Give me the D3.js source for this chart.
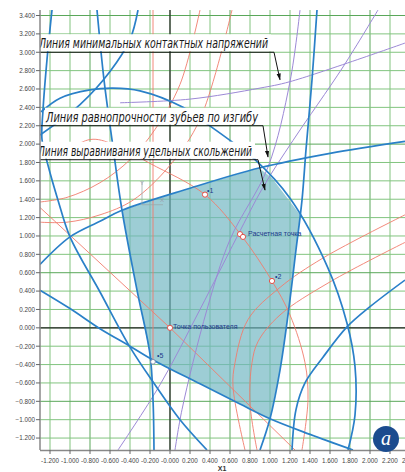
<!DOCTYPE html>
<html><head><meta charset="utf-8">
<script src="https://cdn.jsdelivr.net/npm/d3@7"></script>
<style>body{margin:0;background:#fff}svg{display:block}</style>
</head><body>
<svg id="chart" width="405" height="472"></svg>
<script>
// ---- axis ticks ----
const xTicks = [-1.2,-1.0,-0.8,-0.6,-0.4,-0.2,0,0.2,0.4,0.6,0.8,1.0,1.2,1.4,1.6,1.8,2.0,2.2,2.4];
const xTickLabels = ["-1.200","-1.000","-0.800","-0.600","-0.400","-0.200","-0.000","0.200","0.400","0.600","0.800","1.000","1.200","1.400","1.600","1.800","2.000","2.200","2.400"];
const yTicks = [-1.2,-1.0,-0.8,-0.6,-0.4,-0.2,0,0.2,0.4,0.6,0.8,1.0,1.2,1.4,1.6,1.8,2.0,2.2,2.4,2.6,2.8,3.0,3.2,3.4];

// ---- blocking contour (shaded region) ----
const contour = [[-0.48,1.28],[0.20,1.52],[0.89,1.74],[1.02,1.63],[1.30,1.23],[1.26,0.85],[1.18,0.14],[1.10,-0.46],[1.00,-0.99],[0.70,-0.83],[0.30,-0.61],[-0.19,-0.35],[-0.33,0.41]];

// ---- boundary curves (blue) ----
const blueTop = [[-1.30,0.69],[-1.00,0.99],[-0.70,1.16],[-0.48,1.28],[0.20,1.52],[0.89,1.74],[1.60,1.90],[2.35,2.03]];
const blueArc = [[-1.29,2.35],[-1.10,2.50],[-0.80,2.59],[-0.57,2.61],[-0.30,2.58],[0.13,2.40],[0.37,2.22],[0.60,2.04],[0.85,1.83],[1.20,1.41],[1.58,0.65],[1.77,0.05],[1.85,-0.42],[1.85,-0.95],[1.78,-1.33]];
const blueSteepRight = [[1.47,3.46],[1.42,2.70],[1.36,1.94],[1.32,1.39],[1.26,0.85],[1.18,0.14],[1.10,-0.46],[1.00,-0.99],[0.90,-1.33]];
const blueLowerRight = [[2.35,0.52],[2.00,0.23],[1.77,0.01],[1.53,-0.32],[1.35,-0.60],[1.26,-0.89],[1.22,-1.33]];
const blueBottom = [[-1.30,0.41],[-1.00,0.21],[-0.70,-0.01],[-0.40,-0.20],[-0.17,-0.35],[0.30,-0.61],[0.70,-0.83],[1.00,-0.99],[1.40,-1.16],[1.83,-1.33]];
const blueLeftArc = [[-1.18,3.46],[-1.23,2.92],[-1.27,2.37],[-1.28,2.05],[-1.22,1.77],[-1.12,1.39],[-1.00,0.99],[-0.70,0.39],[-0.40,-0.21],[-0.15,-0.62],[0.10,-1.00],[0.37,-1.33]];
const blueLeftEdge = [[-0.73,3.46],[-0.66,2.70],[-0.57,1.97],[-0.48,1.28],[-0.33,0.41],[-0.20,-0.29],[-0.17,-0.78],[-0.16,-1.33]];
const blueRising = [[-1.30,2.10],[-0.90,2.43],[-0.60,2.79],[-0.40,3.14],[-0.32,3.46]];

// ---- red curves ----
const redThroughOrigin = [[-1.30,1.31],[0,0],[1.25,-1.33]];
const redArcPoints = [[-1.15,1.85],[-0.80,2.05],[-0.57,2.00],[-0.20,1.79],[0.35,1.45],[0.71,1.01],[1.02,0.51],[1.20,0.14],[1.35,-0.38],[1.38,-0.78],[1.32,-1.33]];
const redCupUpper = [[-1.30,1.37],[-1.03,1.42],[-0.70,1.58],[-0.40,1.83],[-0.15,2.16],[0.10,2.65],[0.30,3.46]];
const redCupLower = [[-1.30,1.15],[-1.03,1.15],[-0.70,1.23],[-0.37,1.39],[0.00,1.77],[0.30,2.27],[0.62,3.46]];
const redRightUpper = [[2.35,1.23],[1.53,0.76],[1.10,0.44],[0.78,0.09],[0.65,-0.38],[0.63,-0.64],[0.75,-1.33]];
const redRightLower = [[2.35,0.93],[1.60,0.50],[1.10,0.14],[0.88,-0.15],[0.82,-0.38],[0.80,-0.82],[0.87,-1.33]];
const redVertical = [[-0.17,3.46],[-0.17,-0.35]];

// ---- purple curves ----
const purpleFlat = [[-0.50,2.45],[0.20,2.49],[0.90,2.61],[1.20,2.68],[2.35,3.10]];
const purpleSteepA = [[1.30,3.46],[1.20,2.68],[0.98,1.75],[0.60,0.96],[0.37,0.20],[0.12,-0.89],[0.05,-1.33]];
const purpleSteepB = [[2.08,3.46],[1.73,2.84],[1.23,2.04],[0.93,1.53],[0.67,0.99],[0.30,0.20],[-0.10,-0.62],[-0.52,-1.33]];

// ---- point markers ----
const markerPoints = [[0.35,1.45],[0.70,1.02],[0.73,0.99],[1.02,0.51],[0,0]];
const point5 = [-0.17,-0.37];
const pointLabels = [
  {t:"1", p:[0.37,1.47]},
  {t:"2", p:[1.05,0.53]},
  {t:"5", p:[-0.13,-0.33]}
];
const nameLabels = [
  {t:"Расчетная точка", p:[0.78,1.00]},
  {t:"Точка пользователя", p:[0.03,-0.01]}
];

// ---- annotation callouts ----
const notes = [
  {t:"Линия минимальных контактных напряжений", y:3.00, x0:-1.31, x1:-1.32, xEnd:1.04, tip:[1.10,2.70], len:229},
  {t:"Линия равнопрочности зубьев по изгибу", y:2.20, x0:-1.30, x1:-1.25, xEnd:0.93, tip:[0.98,1.86], len:212},
  {t:"Линия выравнивания удельных скольжений", y:1.83, x0:-1.30, x1:-1.33, xEnd:0.88, tip:[0.95,1.50], len:214}
];

const W = 405, H = 472;
const margin = {left:40, right:0, top:10, bottom:22};
const x = d3.scaleLinear().domain([-1.3, 2.35]).range([margin.left, W - margin.right]);
const y = d3.scaleLinear().domain([-1.33, 3.46]).range([H - margin.bottom, margin.top]);

const svg = d3.select("#chart");
const defs = svg.append("defs");
defs.append("clipPath").attr("id","plot").append("rect")
  .attr("x", x(-1.3)).attr("y", y(3.46)).attr("width", x(2.35)-x(-1.3)).attr("height", y(-1.33)-y(3.46));
defs.append("marker").attr("id","arrow").attr("viewBox","0 0 10 10").attr("refX",9).attr("refY",5)
  .attr("markerWidth",7).attr("markerHeight",7).attr("orient","auto-start-reverse")
  .append("path").attr("d","M0,2 L10,5 L0,8 Z").attr("fill","#111");

const plot = svg.append("g").attr("clip-path","url(#plot)");

// grid
plot.append("g").selectAll("line").data(xTicks).join("line")
  .attr("x1", d => x(d)).attr("x2", d => x(d)).attr("y1", y(3.46)).attr("y2", y(-1.33))
  .attr("stroke", (d,i) => (i % 7 === 2) ? "#5aa75a" : "#82c47f").attr("stroke-width", 1);
plot.append("g").selectAll("line").data(yTicks).join("line")
  .attr("y1", d => y(d)).attr("y2", d => y(d)).attr("x1", x(-1.3)).attr("x2", x(2.35))
  .attr("stroke", (d,i) => (i % 7 === 2) ? "#5aa75a" : "#82c47f").attr("stroke-width", 1);

// zero axes
plot.append("line").attr("x1", x(0)).attr("x2", x(0)).attr("y1", y(3.46)).attr("y2", y(-1.33)).attr("stroke","#222").attr("stroke-width",1.2);
plot.append("line").attr("y1", y(0)).attr("y2", y(0)).attr("x1", x(-1.3)).attr("x2", x(2.35)).attr("stroke","#222").attr("stroke-width",1.2);

// shaded region
plot.append("path").datum(contour)
  .attr("d", d3.line().x(d => x(d[0])).y(d => y(d[1])).curve(d3.curveLinearClosed))
  .attr("fill", "#6fb6c1").attr("fill-opacity", 0.68).attr("stroke","none");

const smooth = d3.line().x(d => x(d[0])).y(d => y(d[1])).curve(d3.curveCatmullRom.alpha(0.5));
const straight = d3.line().x(d => x(d[0])).y(d => y(d[1]));

function draw(data, color, width, gen) {
  plot.append("path").datum(data).attr("d", (gen || smooth)(data))
    .attr("fill","none").attr("stroke", color).attr("stroke-width", width).attr("stroke-linejoin","round");
}

const RED = "#f07c6c", PURPLE = "#9c89d6", BLUE = "#2a80c8";
draw(redThroughOrigin, RED, 0.9, straight);
draw(redArcPoints, RED, 0.9);
draw(redCupUpper, RED, 0.9);
draw(redCupLower, RED, 0.9);
draw(redRightUpper, RED, 0.9);
draw(redRightLower, RED, 0.9);
draw(redVertical, RED, 0.9, straight);
draw(purpleFlat, PURPLE, 1);
draw(purpleSteepA, PURPLE, 1);
draw(purpleSteepB, PURPLE, 1);
[blueTop, blueArc, blueSteepRight, blueLowerRight, blueBottom, blueLeftArc, blueLeftEdge, blueRising]
  .forEach(c => draw(c, BLUE, 1.7));

// small coordinate icon
const icon = plot.append("g").attr("stroke","#9aa").attr("fill","none").attr("stroke-width",0.8);
icon.append("path").attr("d", `M${x(-0.28)},${y(1.60)} L${x(-0.28)},${y(1.34)} L${x(-0.07)},${y(1.34)}`);
plot.append("text").attr("x", x(-0.30)).attr("y", y(1.55)).text("Y").attr("font-size",6).attr("fill","#99a").attr("font-family","Liberation Sans");
plot.append("text").attr("x", x(-0.10)).attr("y", y(1.37)).text("X").attr("font-size",6).attr("fill","#99a").attr("font-family","Liberation Sans");

// markers
plot.append("g").selectAll("circle").data(markerPoints).join("circle")
  .attr("cx", d => x(d[0])).attr("cy", d => y(d[1])).attr("r", 2.6)
  .attr("fill","#fff").attr("stroke","#e0504a").attr("stroke-width",1);
plot.append("circle").attr("cx", x(point5[0])).attr("cy", y(point5[1])).attr("r",2.4)
  .attr("fill","#fff").attr("stroke","#8090b0").attr("stroke-width",1);
plot.append("g").selectAll("text").data(pointLabels).join("text")
  .attr("x", d => x(d.p[0])).attr("y", d => y(d.p[1]))
  .attr("font-family","Liberation Sans").attr("font-size",7).attr("fill","#1c3a8a")
  .text(d => "•" + d.t);
plot.append("g").selectAll("text").data(nameLabels).join("text")
  .attr("x", d => x(d.p[0])).attr("y", d => y(d.p[1]))
  .attr("font-family","Liberation Sans").attr("font-size",7).attr("fill","#1c3a8a")
  .text(d => d.t);

// annotation callouts
notes.forEach(n => {
  const g = plot.append("g");
  g.append("rect").attr("x", x(n.x1)).attr("y", y(n.y) - 18).attr("width", n.len + 4).attr("height", 17).attr("fill","#fff");
  g.append("text").attr("x", x(n.x1) + 1).attr("y", y(n.y) - 4)
    .attr("font-family","Liberation Sans Narrow, DejaVu Sans Condensed, DejaVu Sans").attr("font-style","italic")
    .attr("font-size",13.5).attr("fill","#1a1a1a")
    .attr("textLength", n.len).attr("lengthAdjust","spacingAndGlyphs").text(n.t);
  g.append("line").attr("x1", x(n.x0)).attr("x2", x(n.xEnd)).attr("y1", y(n.y)).attr("y2", y(n.y))
    .attr("stroke","#111").attr("stroke-width",1);
  g.append("line").attr("x1", x(n.xEnd)).attr("y1", y(n.y)).attr("x2", x(n.tip[0])).attr("y2", y(n.tip[1]))
    .attr("stroke","#111").attr("stroke-width",1).attr("marker-end","url(#arrow)");
});

// axes
const axisG = svg.append("g");
axisG.append("line").attr("x1", x(-1.3)).attr("x2", x(-1.3)).attr("y1", y(3.46)).attr("y2", y(-1.33)).attr("stroke","#888").attr("stroke-width",1.5);
axisG.append("line").attr("x1", x(-1.3)).attr("x2", W).attr("y1", y(-1.33)+0.5).attr("y2", y(-1.33)+0.5).attr("stroke","#888").attr("stroke-width",1.5);
axisG.append("g").selectAll("line").data(yTicks).join("line")
  .attr("x1", x(-1.3)-4).attr("x2", x(-1.3)).attr("y1", d => y(d)).attr("y2", d => y(d)).attr("stroke","#666");
axisG.append("g").selectAll("text").data(yTicks).join("text")
  .attr("x", x(-1.3)-5).attr("y", d => y(d)+2.3).attr("text-anchor","end")
  .attr("font-family","Liberation Sans").attr("font-size",6.3).attr("fill","#444")
  .text(d => d3.format(".3f")(d));
axisG.append("g").selectAll("line").data(xTicks).join("line")
  .attr("x1", d => x(d)).attr("x2", d => x(d)).attr("y1", y(-1.33)).attr("y2", y(-1.33)+4).attr("stroke","#666");
axisG.append("g").selectAll("text").data(xTicks).join("text")
  .attr("x", (d) => x(d)).attr("y", y(-1.33)+13).attr("text-anchor","middle")
  .attr("font-family","Liberation Sans").attr("font-size",6.3).attr("fill","#444")
  .text((d,i) => xTickLabels[i]);
axisG.append("text").attr("x", 222).attr("y", 471).attr("text-anchor","middle")
  .attr("font-family","Liberation Sans").attr("font-weight","bold").attr("font-size",7).attr("fill","#333").text("X1");

// badge
svg.append("circle").attr("cx",386).attr("cy",439).attr("r",13).attr("fill","#1b4b8e");
svg.append("text").attr("x",386).attr("y",445).attr("text-anchor","middle")
  .attr("font-family","Liberation Serif").attr("font-style","italic").attr("font-size",20).attr("fill","#fff").text("a");
</script>
</body></html>
